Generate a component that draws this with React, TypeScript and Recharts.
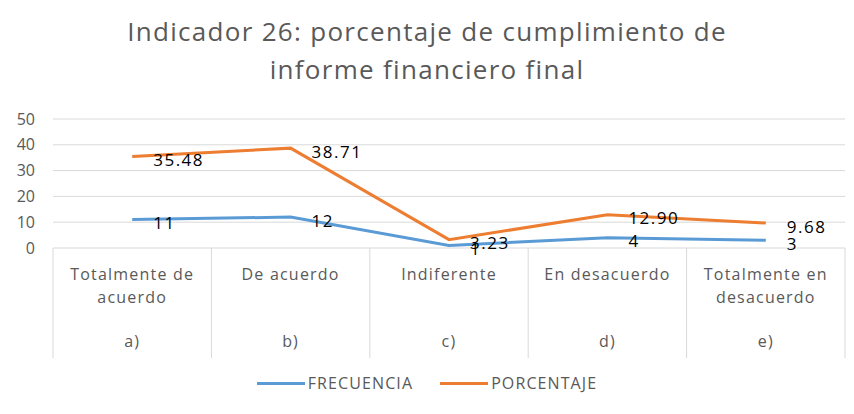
import React from "react";
import {
  LineChart,
  Line,
  XAxis,
  YAxis,
  CartesianGrid,
  Legend,
  LabelList,
} from "recharts";

const categoryLines = [
  ["Totalmente de", "acuerdo"],
  ["De acuerdo"],
  ["Indiferente"],
  ["En desacuerdo"],
  ["Totalmente en", "desacuerdo"],
];
const letters = ["a)", "b)", "c)", "d)", "e)"];
const frecuencia = [11, 12, 1, 4, 3];
const porcentaje = [35.48, 38.71, 3.23, 12.9, 9.68];
const yTicks = [0, 10, 20, 30, 40, 50];

const data = letters.map((l, i) => ({
  key: l,
  frecuencia: frecuencia[i],
  porcentaje: porcentaje[i],
}));

const BLUE = "#5b9bd5";
const ORANGE = "#ed7d31";
const GRAY = "#595959";
const FONT = "'Open Sans', sans-serif";

function CategoryTick(props: any) {
  const { x, y, index, width, visibleTicksCount } = props;
  const count = visibleTicksCount || letters.length;
  const half = (width || 792) / count / 2;
  const lines = categoryLines[index] || [];
  return (
    <g>
      <line x1={x - half} x2={x - half} y1={y} y2={y + 110} stroke="#d9d9d9" />
      {index === count - 1 && (
        <line x1={x + half} x2={x + half} y1={y} y2={y + 110} stroke="#d9d9d9" />
      )}
      {lines.map((t: string, i: number) => (
        <text
          key={i}
          x={x}
          y={y + 26 + i * 23}
          textAnchor="middle"
          dominantBaseline="central"
          fill={GRAY}
          fontSize={16}
          letterSpacing={1.2}
          fontFamily={FONT}
        >
          {t}
        </text>
      ))}
      <text
        x={x}
        y={y + 93}
        textAnchor="middle"
        dominantBaseline="central"
        fill={GRAY}
        fontSize={16}
        letterSpacing={1.2}
        fontFamily={FONT}
      >
        {letters[index]}
      </text>
    </g>
  );
}

function makeLabel(digits: number) {
  return (props: any) => {
    const { x, y, value } = props;
    return (
      <text
        x={x + 21}
        y={y + 3}
        dominantBaseline="central"
        fill="#000"
        fontSize={17}
        letterSpacing={1.5}
        fontFamily={FONT}
      >
        {Number(value).toFixed(digits)}
      </text>
    );
  };
}

function LegendContent() {
  const items = [
    { name: "FRECUENCIA", color: BLUE },
    { name: "PORCENTAJE", color: ORANGE },
  ];
  return (
    <div
      style={{
        display: "flex",
        justifyContent: "center",
        gap: 27,
        height: 24,
        alignItems: "center",
        fontFamily: FONT,
        fontSize: 16,
        letterSpacing: 1.1,
        color: GRAY,
      }}
    >
      {items.map((it) => (
        <div key={it.name} style={{ display: "flex", alignItems: "center" }}>
          <span
            style={{
              display: "inline-block",
              width: 48,
              height: 3,
              background: it.color,
              marginRight: 3,
            }}
          />
          {it.name}
        </div>
      ))}
    </div>
  );
}

export default function App() {
  return (
    <div style={{ position: "relative", width: 854, height: 414, background: "#fff" }}>
      <style>{"body{margin:0}"}</style>
      <div
        style={{
          position: "absolute",
          top: 12,
          left: 0,
          width: 854,
          textAlign: "center",
          fontFamily: FONT,
          fontSize: 26,
          letterSpacing: 1.3,
          lineHeight: "38px",
          color: GRAY,
        }}
      >
        Indicador 26: porcentaje de cumplimiento de
        <br />
        informe financiero final
      </div>
      <LineChart
        width={854}
        height={414}
        data={data}
        margin={{ top: 119, right: 9, left: 5, bottom: 30 }}
      >
        <CartesianGrid vertical={false} stroke="#d9d9d9" />
        <XAxis
          dataKey="key"
          scale="band"
          axisLine={false}
          tickLine={false}
          tickSize={0}
          tickMargin={0}
          height={112}
          interval={0}
          tick={<CategoryTick />}
        />
        <YAxis
          domain={[0, 50]}
          ticks={yTicks}
          width={48}
          axisLine={false}
          tickLine={false}
          tickMargin={12}
          tick={{ fill: GRAY, fontSize: 16, fontFamily: FONT }}
        />
        <Legend
          verticalAlign="bottom"
          content={<LegendContent />}
          wrapperStyle={{ top: 371, bottom: "auto", left: 0, width: 854 }}
        />
        <Line
          type="linear"
          dataKey="frecuencia"
          name="FRECUENCIA"
          stroke={BLUE}
          strokeWidth={3}
          dot={false}
          isAnimationActive={false}
        >
          <LabelList dataKey="frecuencia" content={makeLabel(0)} />
        </Line>
        <Line
          type="linear"
          dataKey="porcentaje"
          name="PORCENTAJE"
          stroke={ORANGE}
          strokeWidth={3}
          dot={false}
          isAnimationActive={false}
        >
          <LabelList dataKey="porcentaje" content={makeLabel(2)} />
        </Line>
      </LineChart>
    </div>
  );
}
